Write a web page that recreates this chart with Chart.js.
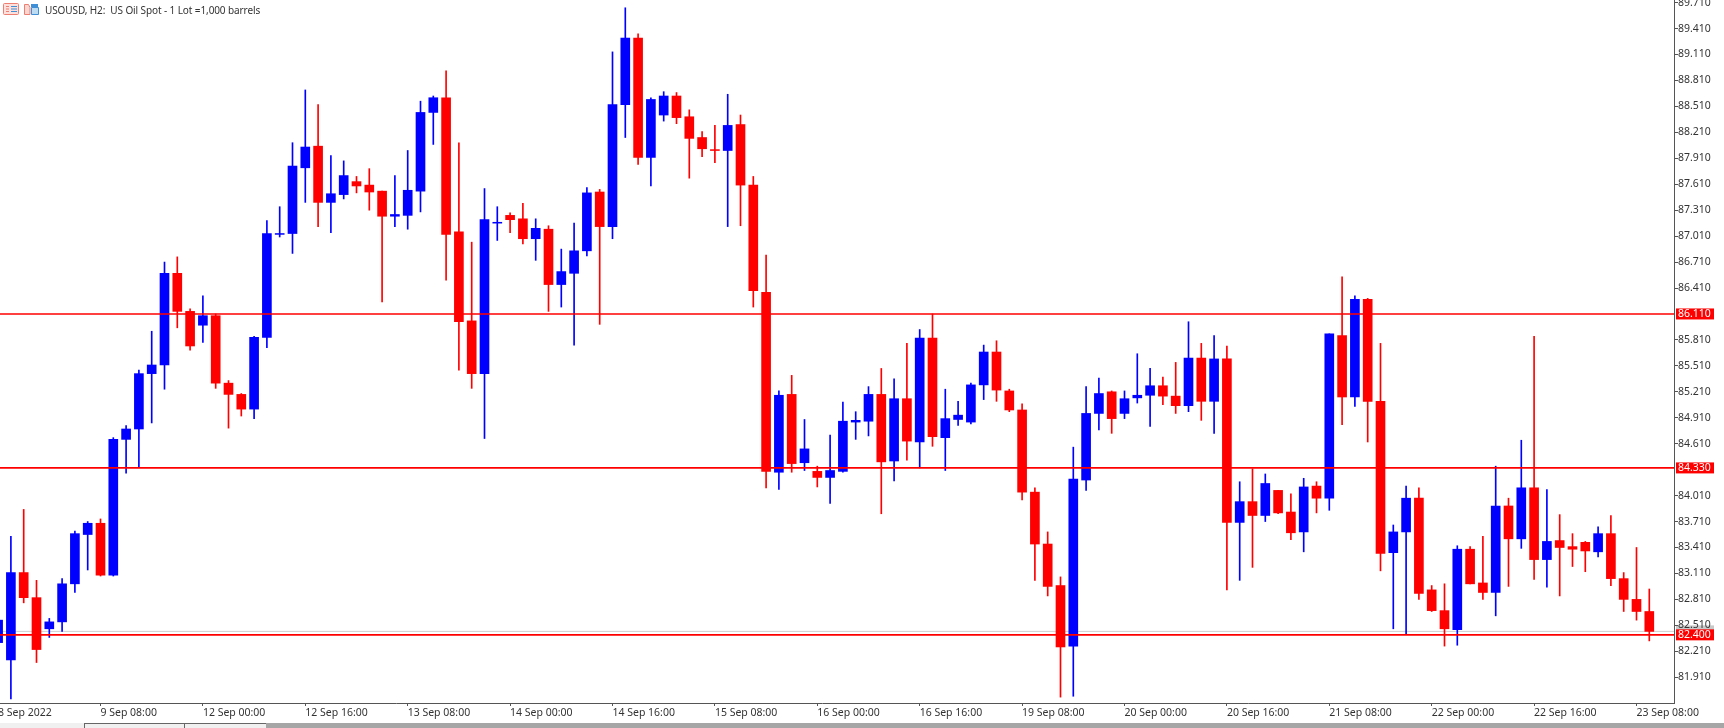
<!DOCTYPE html>
<html>
<head>
<meta charset="utf-8">
<title>USOUSD, H2</title>
<script src="https://cdn.jsdelivr.net/npm/chart.js@4/dist/chart.umd.min.js"></script>
<style>
  html, body { margin: 0; padding: 0; width: 1724px; height: 728px; overflow: hidden; background: #fff; }
  #wrap { position: absolute; left: -30px; top: 0; width: 1754px; height: 723px; }
  #head { position: absolute; left: 45px; top: 3px; font: 10px "Noto Sans", sans-serif; letter-spacing: -0.1px; color: #333; white-space: pre; }
  #icons { position: absolute; left: 3px; top: 3px; }
  #strip { position: absolute; left: 0; top: 723px; width: 1724px; height: 5px; background: #a6a6a6; }
  #strip .blank { position: absolute; left: 0; top: 0; width: 84px; height: 5px; background: #f0f0f0; }
  #strip .tab { position: absolute; top: 0; height: 4px; background: #f0f0f0; border-top: 1px solid #666; border-left: 1px solid #666; }
</style>
</head>
<body>
<div id="wrap"><canvas id="chart" width="1754" height="723"></canvas></div>
<svg id="icons" width="38" height="13" viewBox="0 0 38 13">
  <rect x="0.5" y="0.5" width="15" height="11" rx="1" fill="#fde0dc" stroke="#ec7f72"/>
  <path d="M3 3.5h3M3 6h3M3 8.5h3" stroke="#ec7f72"/>
  <path d="M8 3.5h6M8 6h6M8 8.5h6" stroke="#3f8fd6"/>
  <path d="M21.5 1.5h4l1.5 3v7h-5.5z" fill="#fbd5cf" stroke="#ec7f72"/>
  <path d="M28.5 4.5h7v7h-7z" fill="#bcdcf4" stroke="#3f8fd6"/>
  <path d="M28 1h7v3h-7z" fill="#3f8fd6"/>
</svg>
<div id="head">USOUSD, H2:  US Oil Spot - 1 Lot =1,000 barrels</div>
<div id="strip">
  <div class="blank"></div>
  <div class="tab" style="left:84px;width:100px"></div>
  <div class="tab" style="left:184px;width:81px"></div>
</div>
<script>
const opens = [82.31,82.11,83.12,82.83,82.47,82.55,82.99,83.56,83.69,83.09,
  84.66,84.78,85.42,85.52,86.58,86.14,85.98,86.09,85.31,85.18,
  85.01,85.84,87.03,87.04,87.80,88.05,87.40,87.49,87.64,87.60,
  87.53,87.24,87.25,87.53,88.44,88.61,87.06,86.03,85.42,87.16,
  87.25,87.21,86.98,87.09,86.45,86.58,86.84,87.52,87.12,88.53,
  89.30,87.92,88.41,88.63,88.39,88.15,88.01,88.00,88.30,87.60,
  86.36,84.28,85.18,84.39,84.29,84.22,84.29,84.86,84.87,85.18,
  84.41,85.13,84.63,85.83,84.68,84.89,84.86,85.29,85.67,85.22,
  85.00,84.05,83.45,82.97,82.27,84.19,84.96,85.21,84.96,85.14,
  85.17,85.28,85.16,85.05,85.60,85.10,85.59,83.70,83.94,83.78,
  84.07,83.82,83.59,84.12,83.98,85.86,85.15,86.28,85.10,83.35,
  83.59,83.98,82.92,82.68,82.46,83.39,83.00,82.89,83.89,83.51,
  84.10,83.27,83.49,83.42,83.47,83.36,83.57,83.05,82.81,82.67];
const highs = [82.60,83.54,83.85,83.03,82.59,83.05,83.60,83.71,83.74,84.68,
  84.82,85.46,85.91,86.71,86.77,86.17,86.32,86.11,85.34,85.19,
  85.85,87.19,87.35,88.09,88.70,88.53,87.94,87.88,87.70,87.79,
  87.53,87.71,88.00,88.57,88.63,88.92,88.09,86.94,87.56,87.35,
  87.28,87.39,87.21,87.13,86.86,87.16,87.57,87.55,89.14,89.65,
  89.35,88.61,88.68,88.67,88.47,88.22,88.29,88.65,88.41,87.70,
  86.79,85.22,85.40,84.89,84.35,84.71,85.09,84.98,85.27,85.48,
  85.36,85.77,85.93,86.11,85.24,85.10,85.31,85.75,85.80,85.24,
  85.07,84.10,83.59,83.07,84.57,85.27,85.37,85.22,85.22,85.65,
  85.48,85.38,85.55,86.02,85.77,85.86,85.74,84.17,84.32,84.26,
  84.07,84.03,84.21,84.17,85.88,86.54,86.32,86.29,85.77,83.67,
  84.12,84.10,82.97,82.99,83.43,83.42,83.54,84.35,83.98,84.65,
  85.85,84.08,83.79,83.57,83.48,83.65,83.78,83.12,83.41,82.93];
const lows = [82.25,81.66,82.77,82.08,82.37,82.44,82.89,83.15,83.08,83.08,
  84.27,84.34,84.85,85.24,85.95,85.69,85.78,85.25,84.79,84.93,
  84.90,85.72,87.00,86.81,87.40,87.12,87.05,87.44,87.51,87.31,
  86.25,87.12,87.09,87.29,88.07,86.50,85.46,85.25,84.67,86.96,
  87.05,86.92,86.73,86.14,86.19,85.75,86.78,85.99,86.98,88.15,
  87.84,87.59,88.34,88.31,87.68,87.93,87.86,87.12,87.13,86.19,
  84.10,84.08,84.28,84.30,84.11,83.92,84.28,84.66,84.70,83.80,
  84.18,84.42,84.33,84.58,84.30,84.82,84.84,85.12,85.10,84.98,
  83.96,83.03,82.85,81.68,81.69,84.07,84.77,84.73,84.90,85.08,
  84.81,85.06,84.96,84.98,84.88,84.73,82.92,83.03,83.18,83.71,
  83.80,83.50,83.36,83.81,83.84,84.83,85.04,84.63,83.14,82.47,
  82.41,82.81,82.67,82.27,82.28,82.99,82.81,82.62,82.96,83.40,
  83.04,82.95,82.85,83.19,83.13,83.30,82.97,82.67,82.57,82.33];
const closes = [82.57,83.12,82.83,82.23,82.55,82.99,83.57,83.69,83.09,84.66,
  84.78,85.42,85.52,86.58,86.14,85.74,86.09,85.31,85.18,85.01,
  85.84,87.04,87.04,87.82,88.04,87.40,87.50,87.71,87.59,87.52,
  87.24,87.26,87.54,88.44,88.61,87.03,86.02,85.42,87.20,87.17,
  87.20,86.98,87.10,86.45,86.60,86.84,87.51,87.12,88.53,89.30,
  87.92,88.59,88.63,88.38,88.14,88.02,88.00,88.29,87.60,86.38,
  84.29,85.17,84.38,84.55,84.22,84.30,84.87,84.88,85.18,84.40,
  85.13,84.64,85.83,84.69,84.90,84.94,85.29,85.67,85.23,85.00,
  84.05,83.45,82.96,82.26,84.20,84.96,85.19,84.90,85.13,85.17,
  85.28,85.16,85.05,85.60,85.10,85.59,83.70,83.94,83.78,84.15,
  83.81,83.58,84.11,83.98,85.88,85.15,86.28,85.10,83.34,83.59,
  83.98,82.88,82.68,82.47,83.39,82.99,82.89,83.89,83.51,84.10,
  83.27,83.48,83.41,83.39,83.37,83.57,83.05,82.81,82.67,82.44];

const priceTicks = [89.71,89.41,89.11,88.81,88.51,88.21,87.91,87.61,87.31,87.01,86.71,86.41,
  85.81,85.51,85.21,84.91,84.61,84.01,83.71,83.41,83.11,82.81,82.51,82.21,81.91];
const timeTickBars = [0,8,16,24,32,40,48,56,64,72,80,88,96,104,112,120,128];
const timeTickLabels = ['8 Sep 2022','9 Sep 08:00','12 Sep 00:00','12 Sep 16:00','13 Sep 08:00','14 Sep 00:00',
  '14 Sep 16:00','15 Sep 08:00','16 Sep 00:00','16 Sep 16:00','19 Sep 08:00','20 Sep 00:00','20 Sep 16:00',
  '21 Sep 08:00','22 Sep 00:00','22 Sep 16:00','23 Sep 08:00'];
const levels = [86.11, 84.33, 82.40];
const bidPrice = 82.44;

const BLUE = '#0000ff';
const RED = '#ff0000';
const AXIS = '#555555';
const FONT = '"Noto Sans", sans-serif';

const candleColor = closes.map((c, i) => (c >= opens[i] ? BLUE : RED));

// the visible window runs a bit past the first bar, it starts left of the page edge
const xMin = -2.195;
const xMax = 130.93;

// small price tags on the right axis
const priceTags = {
  id: 'priceTags',
  beforeDraw(chart) {
    const { ctx, chartArea, scales } = chart;
    const y = scales.y.getPixelForValue(bidPrice);
    ctx.save();
    ctx.fillStyle = '#c8c8c8';
    ctx.fillRect(chartArea.right + 2, y - 6, 38, 11);
    ctx.restore();
  },
  afterDraw(chart) {
    const { ctx, chartArea, scales } = chart;
    ctx.save();
    ctx.font = '10.5px ' + FONT;
    ctx.textBaseline = 'middle';
    levels.forEach(level => {
      const y = scales.y.getPixelForValue(level);
      ctx.fillStyle = RED;
      ctx.fillRect(chartArea.right + 2, y - 5.5, 38, 11);
      ctx.fillStyle = '#ffffff';
      ctx.fillText(level.toFixed(3), chartArea.right + 4, y);
    });
    ctx.restore();
  }
};

function hLine(value, color, width, order) {
  return {
    type: 'line',
    data: [{ x: xMin, y: value }, { x: xMax, y: value }],
    borderColor: color,
    borderWidth: width,
    pointRadius: 0,
    order: order
  };
}

new Chart(document.getElementById('chart').getContext('2d'), {
  type: 'bar',
  data: {
    datasets: [
      hLine(bidPrice, '#d0d0d0', 1, 3),
      {
        data: highs.map((h, i) => ({ x: i, y: [lows[i], h] })),
        backgroundColor: candleColor,
        barThickness: 1,
        grouped: false,
        order: 2
      },
      {
        data: opens.map((o, i) => ({ x: i, y: [o, closes[i]] })),
        backgroundColor: candleColor,
        barThickness: 9,
        grouped: false,
        order: 1
      },
      ...levels.map(level => hLine(level, RED, 1.6, 0))
    ]
  },
  options: {
    responsive: false,
    animation: false,
    layout: { padding: 0 },
    plugins: { legend: { display: false }, tooltip: { enabled: false } },
    scales: {
      x: {
        type: 'linear',
        offset: false,
        min: xMin,
        max: xMax,
        afterBuildTicks: axis => { axis.ticks = timeTickBars.map(v => ({ value: v })); },
        afterFit: axis => { axis.height = 20; axis.paddingLeft = 0; axis.paddingRight = 0; },
        grid: { offset: false, drawOnChartArea: false, color: AXIS, tickLength: 3 },
        border: { color: AXIS, width: 1 },
        ticks: {
          autoSkip: false,
          maxRotation: 0,
          align: 'start',
          padding: 1,
          color: '#333333',
          font: { family: FONT, size: 10.5 },
          callback: v => timeTickLabels[timeTickBars.indexOf(v)]
        }
      },
      y: {
        position: 'right',
        min: 81.612,
        max: 89.74,
        afterBuildTicks: axis => { axis.ticks = priceTicks.map(v => ({ value: v })); },
        afterFit: axis => { axis.width = 50; axis.paddingTop = 0; axis.paddingBottom = 0; },
        grid: { drawOnChartArea: false, color: AXIS, tickLength: 4 },
        border: { color: AXIS, width: 1 },
        ticks: {
          autoSkip: false,
          padding: 0,
          color: '#333333',
          font: { family: FONT, size: 10.5 },
          callback: v => v.toFixed(3)
        }
      }
    }
  },
  plugins: [priceTags]
});
</script>
</body>
</html>
